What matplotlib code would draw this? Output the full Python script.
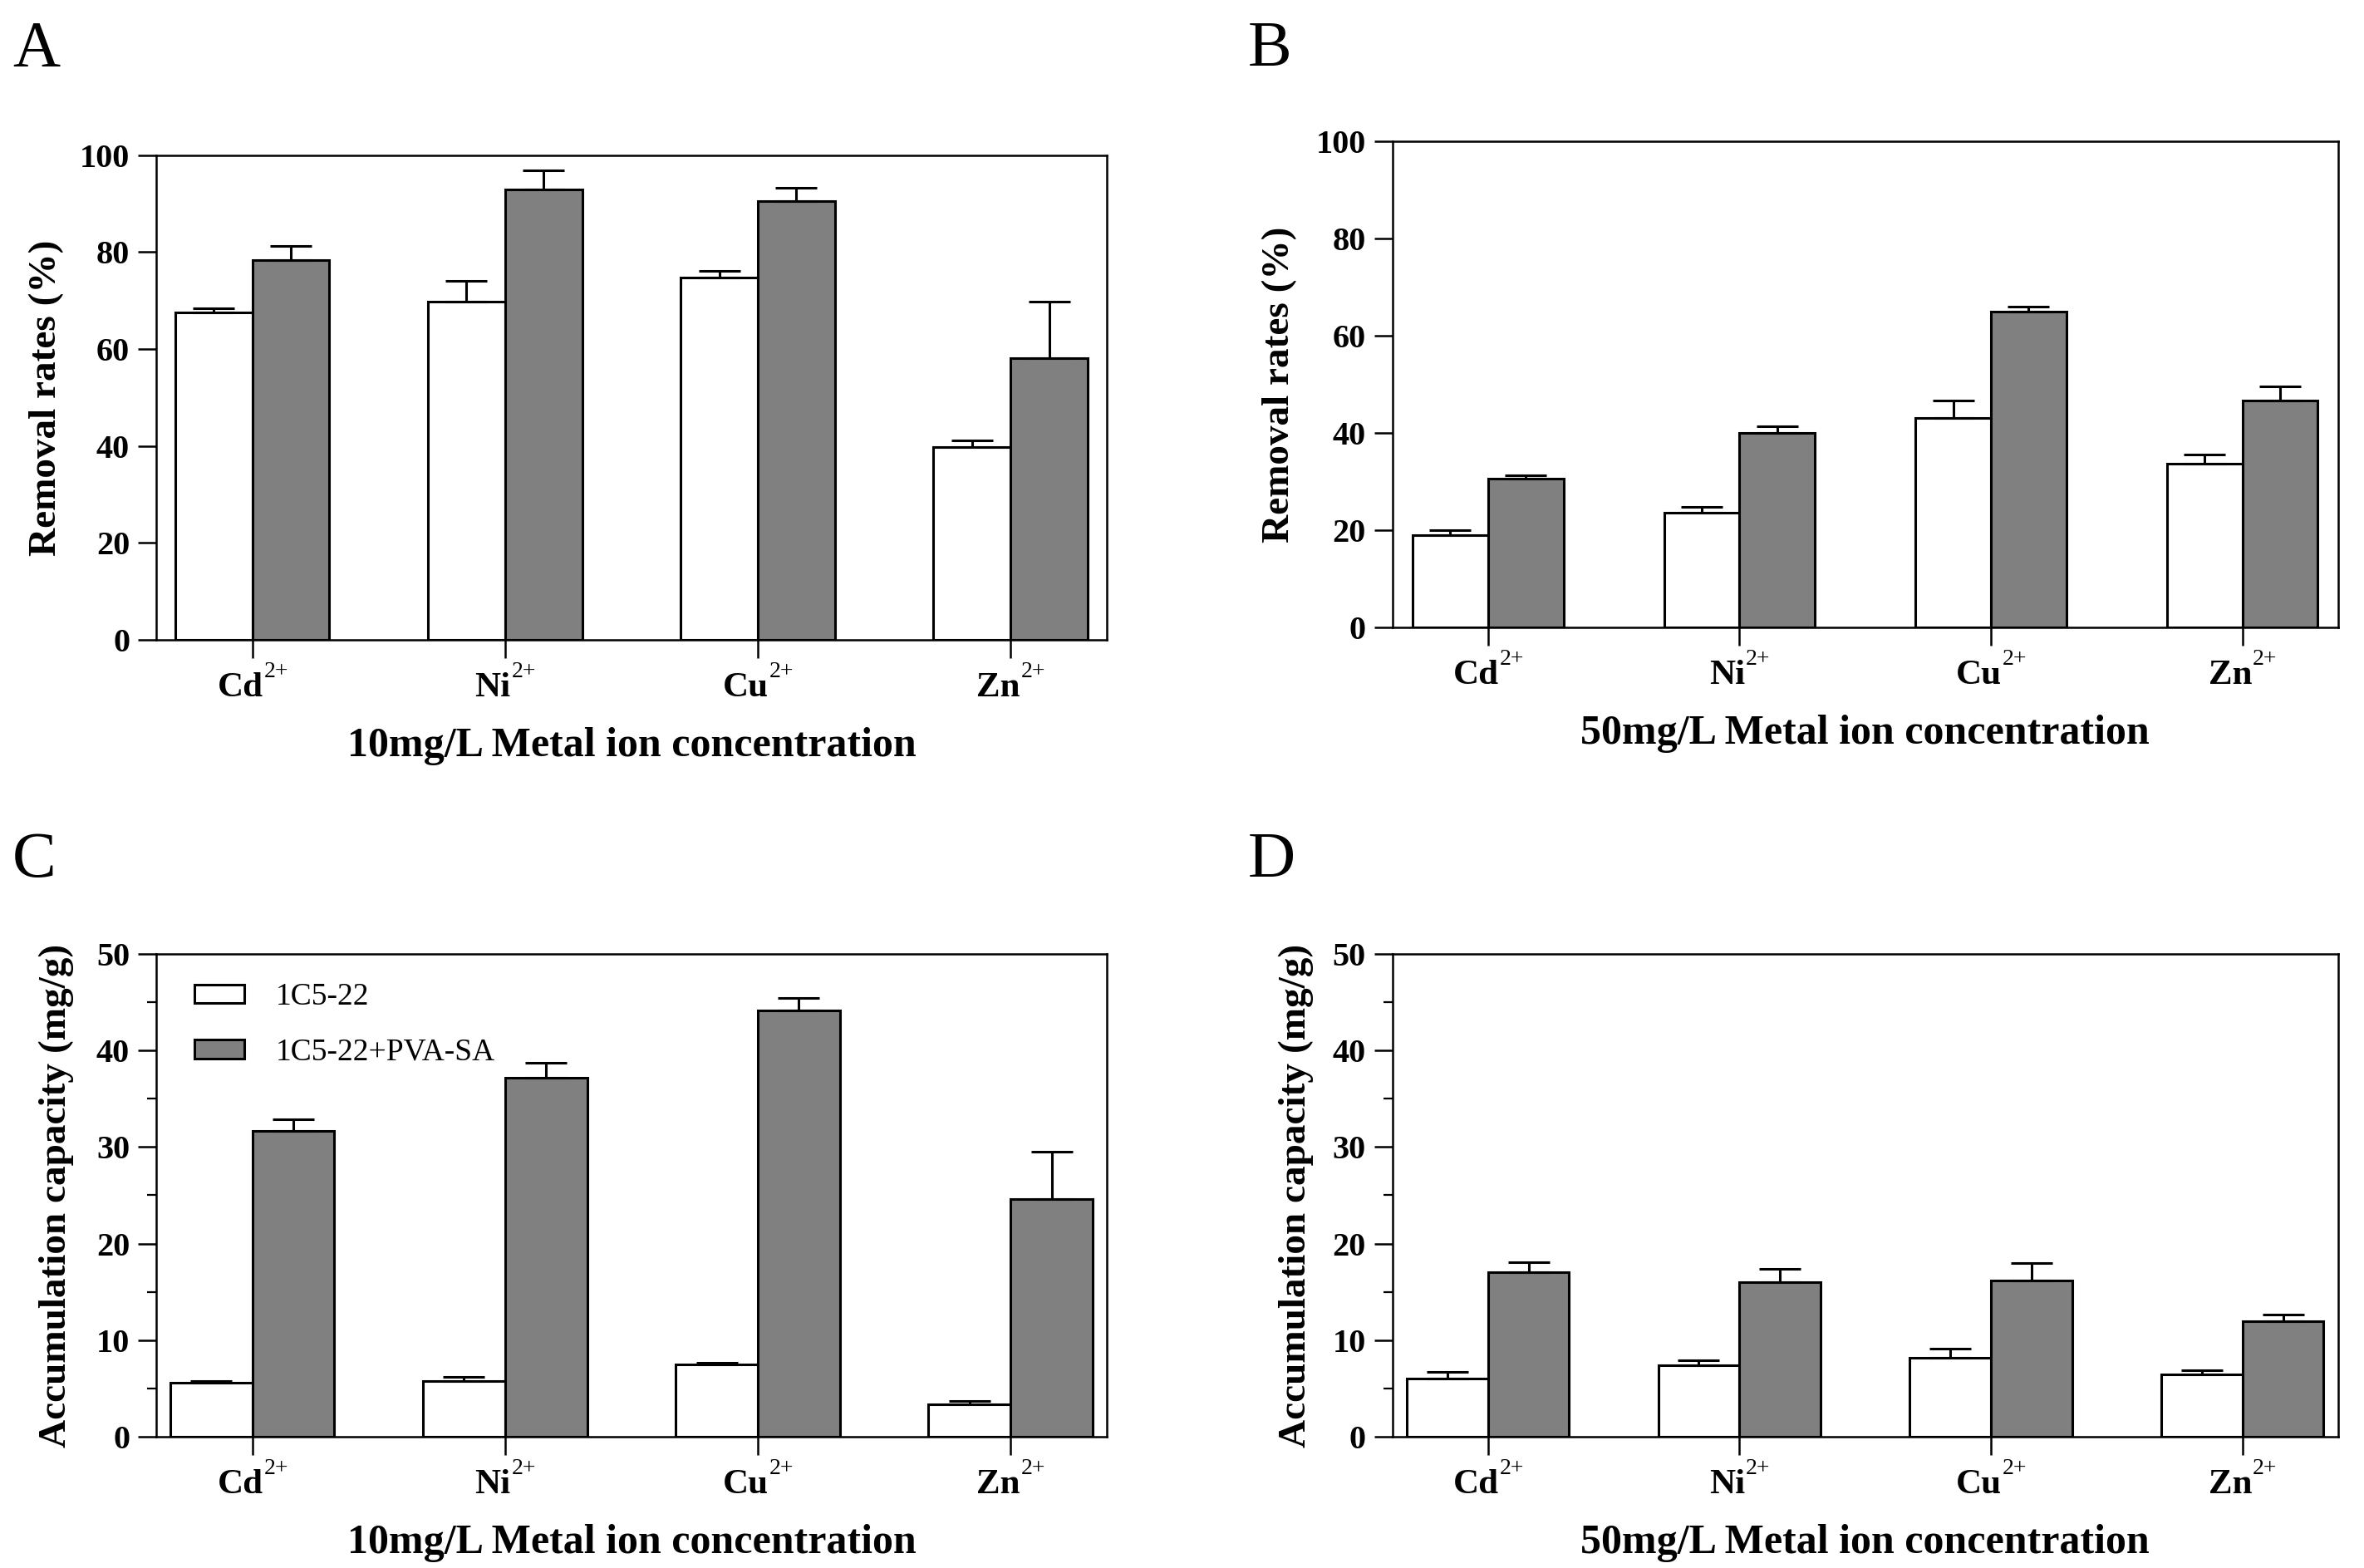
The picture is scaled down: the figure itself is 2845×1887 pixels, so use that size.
import matplotlib
matplotlib.use("Agg")
import matplotlib.pyplot as plt
import numpy as np
from matplotlib.ticker import MultipleLocator

plt.rcParams['font.family'] = ['Liberation Serif', 'DejaVu Serif']

metals = ['Cd', 'Ni', 'Cu', 'Zn']
charge = '2+'
series_names = ['1C5-22', '1C5-22+PVA-SA']

# removal rates (%) at 10 mg/L
rem10_free = [67.6, 69.7, 74.8, 39.8]
rem10_free_err = [0.8, 4.4, 1.4, 1.3]
rem10_imm = [78.4, 93.0, 90.6, 58.2]
rem10_imm_err = [2.9, 3.8, 2.6, 11.5]

# removal rates (%) at 50 mg/L
rem50_free = [19.0, 23.6, 43.1, 33.7]
rem50_free_err = [0.9, 1.1, 3.6, 1.9]
rem50_imm = [30.5, 40.0, 65.0, 46.7]
rem50_imm_err = [0.7, 1.4, 1.0, 2.8]

# accumulation capacity (mg/g) at 10 mg/L
acc10_free = [5.6, 5.8, 7.5, 3.4]
acc10_free_err = [0.2, 0.4, 0.2, 0.3]
acc10_imm = [31.7, 37.2, 44.1, 24.6]
acc10_imm_err = [1.2, 1.5, 1.3, 4.9]

# accumulation capacity (mg/g) at 50 mg/L
acc50_free = [6.05, 7.4, 8.15, 6.45]
acc50_free_err = [0.7, 0.5, 1.0, 0.4]
acc50_imm = [17.0, 16.0, 16.2, 11.95]
acc50_imm_err = [1.1, 1.4, 1.8, 0.7]

fig = plt.figure(figsize=(28.45, 18.87), dpi=100)
axes = []

def panel(rect, free, free_err, imm, imm_err, ymax, ystep, minor, ylabel, xlabel,
          letter, letter_pos, ylab_x, width, legend=False):
    ax = fig.add_axes(rect)
    x = np.arange(len(metals))
    ax.bar(x, free, width=-width, align='edge', color='white', edgecolor='black',
           linewidth=2.2, label=series_names[0], zorder=2)
    ax.bar(x, imm, width=width, align='edge', color='#808080', edgecolor='black',
           linewidth=2.2, label=series_names[1], zorder=2)
    ax.errorbar(x - width / 2, free, yerr=[np.zeros(4), free_err], fmt='none',
                ecolor='black', elinewidth=2.2, capsize=18, capthick=2.2, zorder=3)
    ax.errorbar(x + width / 2, imm, yerr=[np.zeros(4), imm_err], fmt='none',
                ecolor='black', elinewidth=2.2, capsize=18, capthick=2.2, zorder=3)
    ax.set_xlim(-0.38, 3.38)
    ax.set_ylim(0, ymax)
    ax.set_yticks(np.arange(0, ymax + 1, ystep))
    if minor:
        ax.yaxis.set_minor_locator(MultipleLocator(minor))
        ax.tick_params(axis='y', which='minor', length=8, width=1.6, direction='out')
    ax.set_xticks(x)
    ax.set_xticklabels([])
    ax.tick_params(axis='x', length=16, width=1.8, direction='out')
    ax.tick_params(axis='y', which='major', length=16, width=1.8, direction='out',
                   labelsize=29, pad=7)
    for lab in ax.get_yticklabels():
        lab.set_fontweight('bold')
    for sp in ax.spines.values():
        sp.set_linewidth(1.8)
    ax.set_ylabel(ylabel, fontsize=34, fontweight='bold')
    ax.yaxis.set_label_coords(ylab_x, 0.5)
    ax.set_xlabel(xlabel, fontsize=36, fontweight='bold')
    ax.xaxis.set_label_coords(0.5, -0.18)
    fig.text(letter_pos[0], letter_pos[1], letter, fontsize=57, ha='left', va='top')
    if legend:
        ax.legend(loc='upper left', bbox_to_anchor=(0.04, 0.94), frameon=False,
                  fontsize=27, handlelength=1.6, handleheight=0.55,
                  labelspacing=0.85, handletextpad=1.0, borderpad=0, borderaxespad=0)
    axes.append(ax)
    return ax

panel([0.0661, 0.592, 0.402, 0.309], rem10_free, rem10_free_err, rem10_imm, rem10_imm_err,
      100, 20, None, 'Removal rates (%)', '10mg/L Metal ion concentration',
      'A', (0.0053, 0.987), -0.097, 0.305)
panel([0.589, 0.600, 0.400, 0.310], rem50_free, rem50_free_err, rem50_imm, rem50_imm_err,
      100, 20, None, 'Removal rates (%)', '50mg/L Metal ion concentration',
      'B', (0.528, 0.987), -0.101, 0.30)
panel([0.0661, 0.0837, 0.402, 0.308], acc10_free, acc10_free_err, acc10_imm, acc10_imm_err,
      50, 10, 5, 'Accumulation capacity (mg/g)', '10mg/L Metal ion concentration',
      'C', (0.0053, 0.470), -0.087, 0.325, legend=True)
panel([0.589, 0.0837, 0.400, 0.308], acc50_free, acc50_free_err, acc50_imm, acc50_imm_err,
      50, 10, 5, 'Accumulation capacity (mg/g)', '50mg/L Metal ion concentration',
      'D', (0.528, 0.470), -0.083, 0.323)

# category labels: bold symbol with a regular superscript charge, centred on the tick
renderer = fig.canvas.get_renderer()
W, H = fig.bbox.width, fig.bbox.height
for ax in axes:
    for i, name in enumerate(metals):
        xd, yd = ax.transData.transform((i, 0))
        t1 = fig.text(0, 0, name, fontsize=31, fontweight='bold', ha='left', va='baseline')
        t2 = fig.text(0, 0, charge, fontsize=20, ha='left', va='baseline')
        w1 = t1.get_window_extent(renderer).width
        w2 = t2.get_window_extent(renderer).width
        x0 = xd - (w1 + w2) / 2
        base = yd - 68
        t1.set_position((x0 / W, base / H))
        t2.set_position(((x0 + w1 + 1) / W, (base + 23) / H))

fig.savefig('out.png', dpi=100, facecolor='white')
